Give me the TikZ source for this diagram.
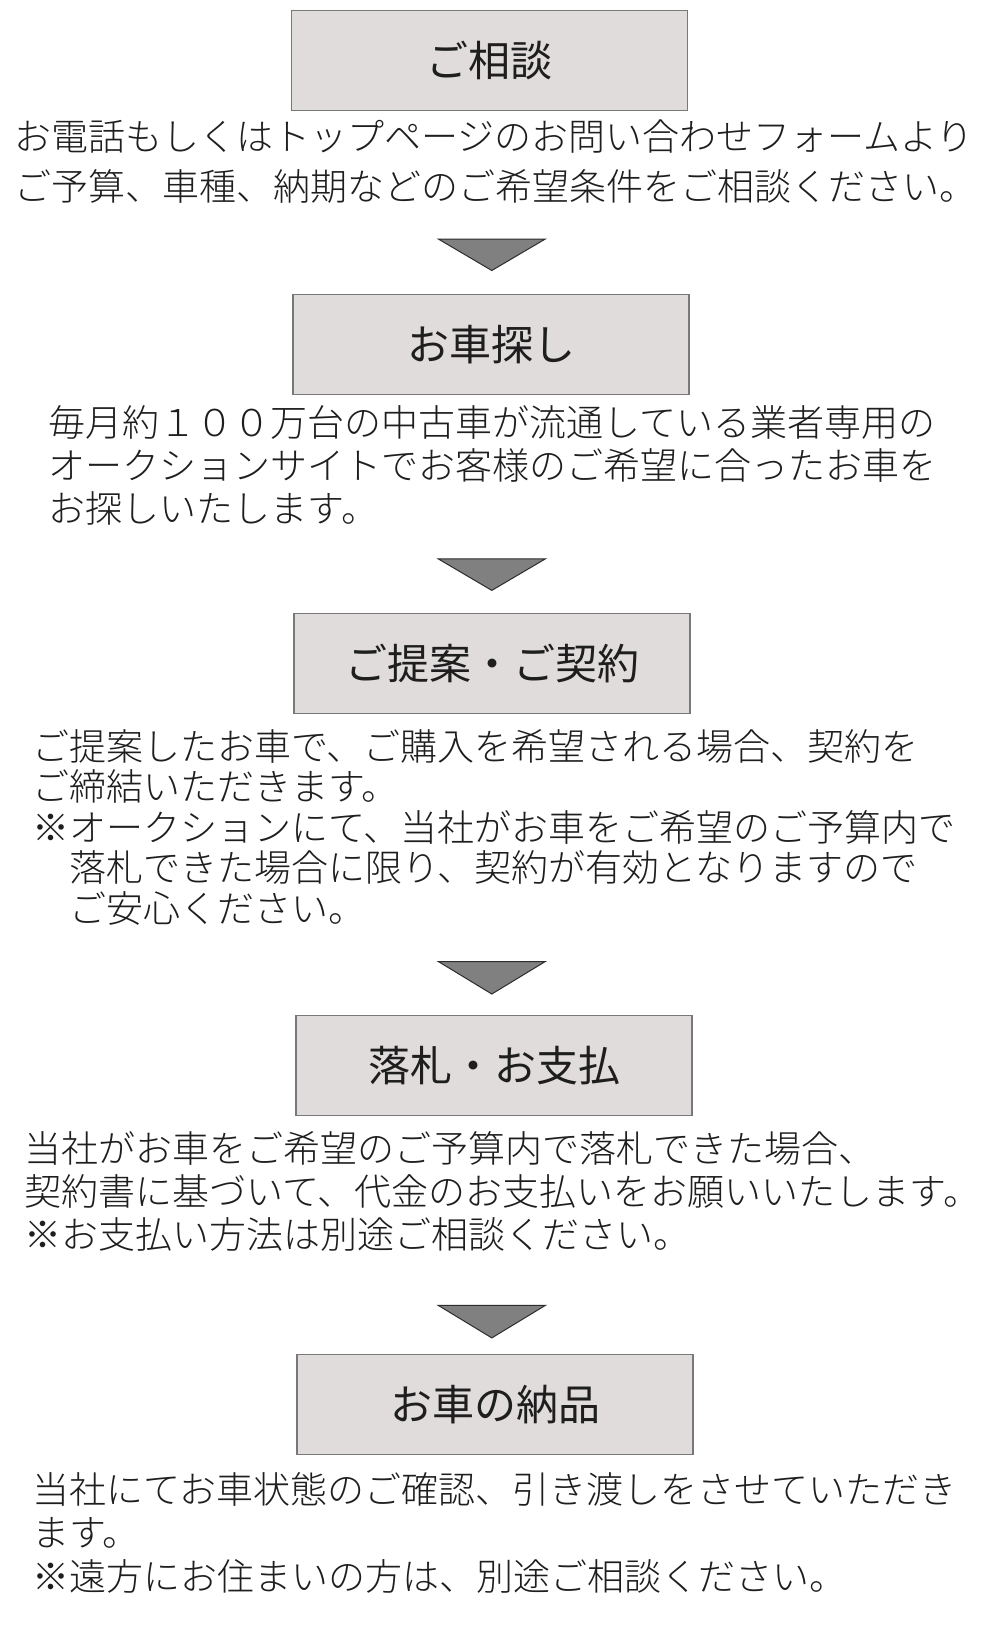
\documentclass[tikz,border=0pt]{standalone}
\usepackage{fontspec}
\setmainfont{Noto Sans CJK JP}
\newfontfamily\jplight{Noto Sans CJK JP Light}
\usetikzlibrary{calc}
\definecolor{boxfill}{RGB}{224,220,220}
\definecolor{boxline}{RGB}{120,120,120}
\definecolor{trifill}{RGB}{128,128,128}
\definecolor{triline}{RGB}{45,45,45}
\definecolor{textcol}{RGB}{30,30,30}

\begin{document}
\begin{tikzpicture}[x=1pt, y=-1pt,
      stepbox/.style={draw=boxline, line width=1.2pt, fill=boxfill, minimum width=396pt, minimum height=100pt, inner sep=0pt, text=textcol, font=\fontsize{42}{50}\selectfont},
      body/.style={anchor=base west, align=left, inner sep=0pt, text=textcol},
      arrowtri/.style={draw=triline, line width=1pt, fill=trifill, line join=miter}]
    \useasboundingbox[fill=white] (0,0) rectangle (980,1644);
    % steps
    \node[stepbox] (s1) at (489.5,60.3)  {ご相談};
    \node[stepbox] (s2) at (491,344.4)   {お車探し};
    \node[stepbox] (s3) at (492,663.2)   {ご提案・ご契約};
    \node[stepbox] (s4) at (494,1065.8)  {落札・お支払};
    \node[stepbox] (s5) at (495,1404.5)  {お車の納品};
    % texts (anchored at the baseline of the last line)
    \node[body, font=\jplight\fontsize{37}{50.3}\selectfont] (t1) at (14,200.6)
      {お電話もしくはトップページのお問い合わせフォームより\\ご予算、車種、納期などのご希望条件をご相談ください。};
    \node[body, font=\jplight\fontsize{37}{43}\selectfont] (t2) at (48.5,522.5)
      {毎月約１００万台の中古車が流通している業者専用の\\オークションサイトでお客様のご希望に合ったお車を\\お探しいたします。};
    \node[body, font=\jplight\fontsize{37}{40.4}\selectfont] (t3) at (32,922.1)
      {ご提案したお車で、ご購入を希望される場合、契約を\\ご締結いただきます。\\※オークションにて、当社がお車をご希望のご予算内で\\　落札できた場合に限り、契約が有効となりますので\\　ご安心ください。};
    \node[body, font=\jplight\fontsize{37}{43}\selectfont] (t4) at (24.5,1248)
      {当社がお車をご希望のご予算内で落札できた場合、\\契約書に基づいて、代金のお支払いをお願いいたします。\\※お支払い方法は別途ご相談ください。};
    \node[body, font=\jplight\fontsize{37}{43.5}\selectfont] (t5) at (32,1590)
      {当社にてお車状態のご確認、引き渡しをさせていただき\\ます。\\※遠方にお住まいの方は、別途ご相談ください。};
    % arrows
    \coordinate (a1) at (491.8,239);
    \coordinate (a2) at (491.8,558.9);
    \coordinate (a3) at (491.8,961.5);
    \coordinate (a4) at (491.8,1305.4);
    \draw[arrowtri] ($(a1)+(-53.5,0)$) -- ($(a1)+(53.5,0)$) -- ($(a1)+(0,31.5)$) -- cycle;
    \draw[arrowtri] ($(a2)+(-53.5,0)$) -- ($(a2)+(53.5,0)$) -- ($(a2)+(0,31.5)$) -- cycle;
    \draw[arrowtri] ($(a3)+(-53.5,0)$) -- ($(a3)+(53.5,0)$) -- ($(a3)+(0,32.5)$) -- cycle;
    \draw[arrowtri] ($(a4)+(-53.5,0)$) -- ($(a4)+(53.5,0)$) -- ($(a4)+(0,32.5)$) -- cycle;
  \end{tikzpicture}
\end{document}
